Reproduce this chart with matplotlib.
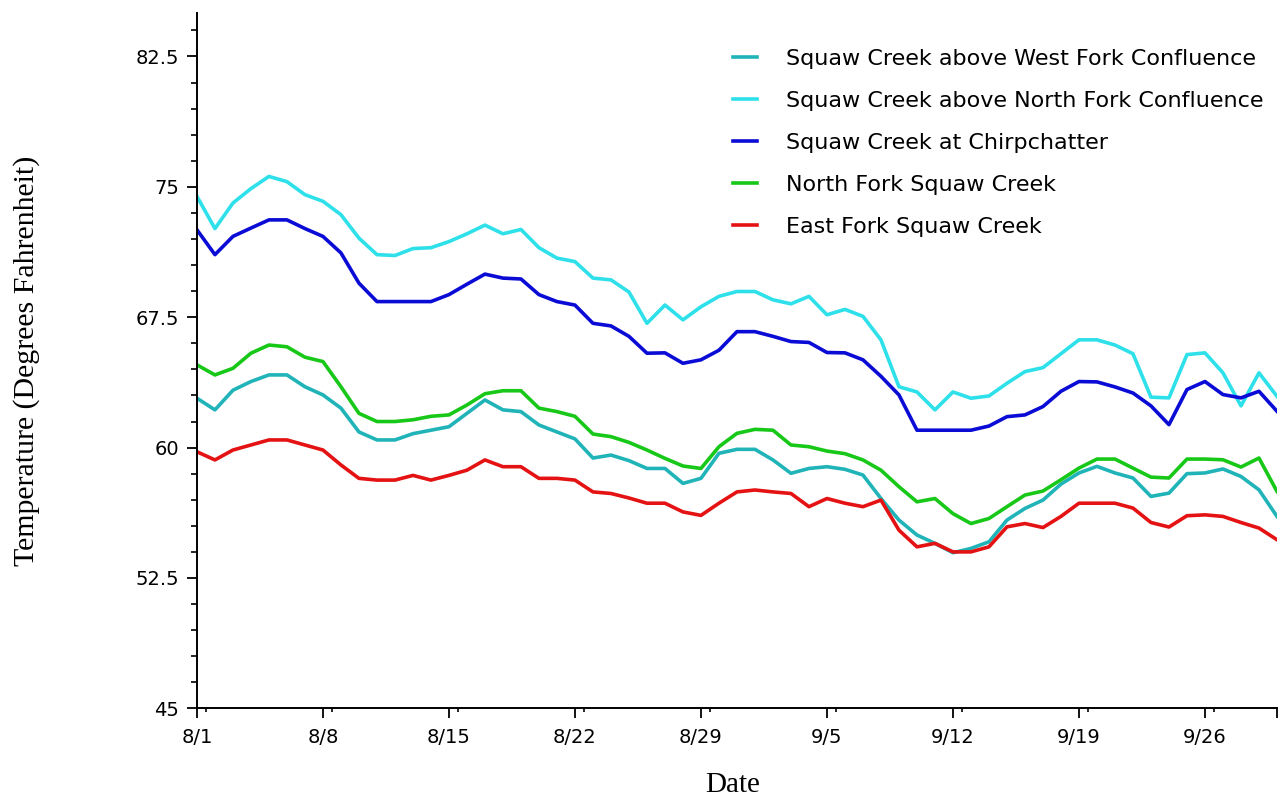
import numpy as np
import pandas as pd
import matplotlib
matplotlib.use('Agg')
import matplotlib.pyplot as plt
from matplotlib.ticker import FixedLocator, MultipleLocator

# daily readings 8/1 .. 9/30
dates = pd.date_range('2000-08-01', '2000-09-30', freq='D')

west_fork = [62.84, 62.17, 63.3, 63.8, 64.18, 64.18, 63.5, 63.03, 62.27, 60.9,
             60.44, 60.44, 60.8, 61.0, 61.2, 61.97, 62.74, 62.17, 62.07, 61.3,
             60.9, 60.5, 59.4, 59.57, 59.25, 58.8, 58.8, 57.94, 58.23, 59.67,
             59.9, 59.9, 59.29, 58.52, 58.8, 58.9, 58.75, 58.42, 57.07, 55.83,
             54.97, 54.49, 53.95, 54.2, 54.58, 55.83, 56.5, 56.98, 57.9, 58.54,
             58.92, 58.54, 58.25, 57.19, 57.38, 58.5, 58.54, 58.77, 58.34, 57.57,
             56.04]
north_conf = [74.45, 72.6, 74.07, 74.9, 75.6, 75.3, 74.55, 74.17, 73.4, 72.05,
              71.1, 71.05, 71.45, 71.5, 71.85, 72.3, 72.8, 72.3, 72.55, 71.5,
              70.9, 70.7, 69.75, 69.65, 68.95, 67.15, 68.2, 67.35, 68.1, 68.7,
              68.98, 68.98, 68.5, 68.27, 68.7, 67.64, 67.95, 67.55, 66.2, 63.5,
              63.2, 62.17, 63.2, 62.84, 62.97, 63.7, 64.37, 64.6, 65.4, 66.2,
              66.2, 65.9, 65.4, 62.9, 62.86, 65.35, 65.45, 64.3, 62.4, 64.3,
              62.95]
chirpchatter = [72.53, 71.1, 72.15, 72.63, 73.1, 73.1, 72.6, 72.15, 71.2, 69.46,
                68.4, 68.4, 68.4, 68.4, 68.8, 69.4, 69.98, 69.75, 69.7, 68.8,
                68.4, 68.2, 67.15, 67.0, 66.4, 65.43, 65.45, 64.85, 65.05, 65.6,
                66.67, 66.67, 66.4, 66.1, 66.05, 65.47, 65.45, 65.05, 64.1, 63.03,
                61.0, 61.0, 61.0, 61.0, 61.24, 61.78, 61.88, 62.36, 63.24, 63.8,
                63.78, 63.49, 63.14, 62.4, 61.32, 63.34, 63.8, 63.05, 62.86, 63.24,
                62.09]
north_fork = [64.76, 64.18, 64.56, 65.43, 65.9, 65.8, 65.2, 64.95, 63.5, 61.97,
              61.5, 61.5, 61.6, 61.8, 61.88, 62.45, 63.1, 63.27, 63.27, 62.27,
              62.07, 61.8, 60.78, 60.63, 60.3, 59.86, 59.38, 58.94, 58.8, 60.05,
              60.82, 61.05, 61.0, 60.15, 60.05, 59.8, 59.65, 59.29, 58.7, 57.75,
              56.88, 57.07, 56.2, 55.63, 55.92, 56.6, 57.27, 57.5, 58.15, 58.82,
              59.34, 59.34, 58.82, 58.3, 58.25, 59.34, 59.34, 59.3, 58.88, 59.4,
              57.48]
east_fork = [59.76, 59.29, 59.86, 60.15, 60.44, 60.44, 60.15, 59.86, 59.0, 58.23,
             58.13, 58.13, 58.4, 58.13, 58.4, 58.7, 59.29, 58.9, 58.9, 58.23,
             58.23, 58.13, 57.45, 57.36, 57.1, 56.8, 56.8, 56.3, 56.1, 56.8,
             57.45, 57.56, 57.45, 57.36, 56.6, 57.07, 56.8, 56.6, 56.98, 55.25,
             54.29, 54.49, 54.0, 54.0, 54.29, 55.44, 55.63, 55.4, 56.04, 56.8,
             56.8, 56.8, 56.52, 55.69, 55.43, 56.08, 56.13, 56.04, 55.69, 55.37,
             54.7]

names = ['Squaw Creek above West Fork Confluence',
         'Squaw Creek above North Fork Confluence',
         'Squaw Creek at Chirpchatter',
         'North Fork Squaw Creek',
         'East Fork Squaw Creek']
colors = ['#20b4b8', '#2ee0ea', '#0b0bd6', '#18c818', '#e41212']
yticks = [45, 52.5, 60, 67.5, 75, 82.5]

fig = plt.figure(figsize=(12.83, 8), dpi=100)
ax = fig.add_axes([0.1535, 0.1146, 0.8418, 0.8691])

series = [west_fork, north_conf, chirpchatter, north_fork, east_fork]
for vals, name, col in zip(series, names, colors):
    ax.plot(dates, vals, color=col, lw=2.6, label=name)

ax.set_xlim(dates[0], dates[-1])
ax.set_ylim(45, 85)

week = list(dates[::7]) + [dates[-1]]
ax.xaxis.set_major_locator(FixedLocator([matplotlib.dates.date2num(d) for d in week]))
ax.set_xticklabels([f'{d.month}/{d.day}' for d in dates[::7]] + [''])
half = [matplotlib.dates.date2num(d) + 0.5 for d in dates[::7]]
ax.xaxis.set_minor_locator(FixedLocator(half))

ax.set_yticks(yticks)
ax.set_yticklabels(['45', '52.5', '60', '67.5', '75', '82.5'])
ax.yaxis.set_minor_locator(MultipleLocator(1.5))

for s in ['top', 'right']:
    ax.spines[s].set_visible(False)
for s in ['left', 'bottom']:
    ax.spines[s].set_linewidth(1.4)

ax.tick_params(axis='both', which='major', direction='out', length=7, width=1.3,
               labelsize=14)
ax.tick_params(axis='y', which='major', pad=6)
ax.tick_params(axis='x', which='major', pad=7)
ax.tick_params(axis='y', which='minor', direction='out', length=4, width=1.2)
ax.tick_params(axis='x', which='minor', direction='out', length=3, width=1.2)
for lab in ax.get_xticklabels() + ax.get_yticklabels():
    lab.set_family('DejaVu Sans')

ax.set_xlabel('Date', family='Liberation Serif', fontsize=21)
ax.set_ylabel('Temperature (Degrees Fahrenheit)', family='Liberation Serif', fontsize=21.5)
ax.xaxis.set_label_coords(0.496, -0.092)
ax.yaxis.set_label_coords(-0.145, 0.5)

leg = ax.legend(loc='upper right', bbox_to_anchor=(1.0, 0.968), frameon=False,
                handlelength=1.1, handletextpad=1.3, labelspacing=0.99,
                borderaxespad=0.2, prop={'family': 'DejaVu Sans', 'size': 16})

fig.savefig('out.png', dpi=100)
